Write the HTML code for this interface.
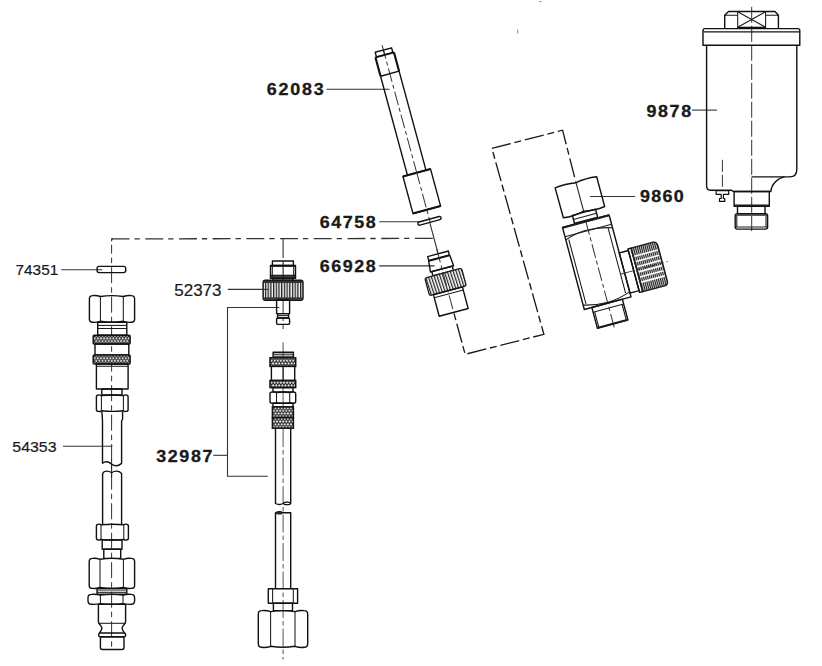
<!DOCTYPE html>
<html><head><meta charset="utf-8">
<style>
html,body{margin:0;padding:0;background:#fff;}
body{width:822px;height:666px;overflow:hidden;}
svg{display:block;}
.o{fill:#fff;stroke:#111;stroke-width:1.4;stroke-linejoin:round;}
.n{fill:none;stroke:#111;stroke-width:1.4;stroke-linejoin:round;}
.t{fill:none;stroke:#1a1a1a;stroke-width:1.05;}
.l{fill:none;stroke:#333;stroke-width:1.1;}
.c{fill:none;stroke:#333;stroke-width:1;stroke-dasharray:14 3 4 3;}
.d{fill:none;stroke:#333;stroke-width:1.3;stroke-dasharray:17 5 6 5;}
.kx{fill:url(#kx);stroke:#111;stroke-width:1.5;}
.lb{font-family:"Liberation Sans",sans-serif;font-weight:bold;font-size:16px;fill:#1a1a1a;stroke:#1a1a1a;stroke-width:0.3;}
.lr{font-family:"Liberation Sans",sans-serif;font-size:16.2px;fill:#1a1a1a;stroke:#1a1a1a;stroke-width:0.2;}
</style></head>
<body>
<svg width="822" height="666" viewBox="0 0 822 666">
<defs>
<pattern id="kx" width="2.6" height="2.6" patternUnits="userSpaceOnUse" patternTransform="rotate(45)">
<rect width="2.6" height="2.6" fill="#fff"/><rect width="2.6" height="1.0" fill="#2a2a2a"/><rect width="1.0" height="2.6" fill="#2a2a2a"/>
</pattern>
<pattern id="kv" width="2.7" height="4" patternUnits="userSpaceOnUse" x="0.3">
<rect width="2.7" height="4" fill="#f4f4f4"/><rect width="1.0" height="4" fill="#1e1e1e"/><rect x="1.0" width="0.7" height="4" fill="#8a8a8a"/>
</pattern>
<pattern id="kd" width="2.8" height="4" patternUnits="userSpaceOnUse" patternTransform="rotate(-3)">
<rect width="2.8" height="4" fill="#fff"/><rect width="1.25" height="4" fill="#262626"/>
</pattern>
<pattern id="kh" width="1.9" height="1.9" patternUnits="userSpaceOnUse" patternTransform="rotate(-60)">
<rect width="1.9" height="1.9" fill="#c4c4c4"/><rect width="1.9" height="0.95" fill="#222"/>
</pattern>
<pattern id="kx2" width="3.1" height="5.4" patternUnits="userSpaceOnUse">
<rect width="3.1" height="5.4" fill="#262626"/>
<path d="M1.55,0.05 L2.8,1.35 L1.55,2.65 L0.3,1.35 Z M0,2.75 L1.25,4.05 L0,5.35 L-1.25,4.05 Z M3.1,2.75 L4.35,4.05 L3.1,5.35 L1.85,4.05 Z" fill="#f4f4f4"/>
</pattern>
</defs>

<!-- ===== labels ===== -->
<text class="lb" style="font-size:16px" transform="translate(266.7,94.8) scale(1.12,1)" x="0" y="0" textLength="50.80" lengthAdjust="spacing">62083</text>
<text class="lb" style="font-size:16px" transform="translate(319.7,227.6) scale(1.12,1)" x="0" y="0" textLength="50.09" lengthAdjust="spacing">64758</text>
<text class="lb" style="font-size:16px" transform="translate(319.7,271.6) scale(1.12,1)" x="0" y="0" textLength="50.09" lengthAdjust="spacing">66928</text>
<text class="lb" style="font-size:16px" transform="translate(646.4,116.5) scale(1.12,1)" x="0" y="0" textLength="40.00" lengthAdjust="spacing">9878</text>
<text class="lb" style="font-size:16px" transform="translate(639.9,202.4) scale(1.12,1)" x="0" y="0" textLength="39.20" lengthAdjust="spacing">9860</text>
<text class="lb" style="font-size:16px" transform="translate(156.20000000000002,462.1) scale(1.12,1)" x="0" y="0" textLength="50.27" lengthAdjust="spacing">32987</text>
<text class="lr" style="font-size:14.8px" transform="translate(15.500000000000002,274.9) scale(1.0,1)" x="0" y="0" textLength="42.80" lengthAdjust="spacingAndGlyphs">74351</text>
<text class="lr" style="font-size:16.2px" transform="translate(174.3,295.8) scale(1.0,1)" x="0" y="0" textLength="47.20" lengthAdjust="spacingAndGlyphs">52373</text>
<text class="lr" style="font-size:14.8px" transform="translate(12.3,451.9) scale(1.0,1)" x="0" y="0" textLength="44.20" lengthAdjust="spacingAndGlyphs">54353</text>

<!-- ===== leaders ===== -->
<g class="l">
<line x1="61.3" y1="269.7" x2="102.2" y2="269.7"/>
<line x1="63" y1="446.2" x2="112.4" y2="446.2"/>
<line x1="227.8" y1="289.4" x2="268.7" y2="289.4"/>
<polyline points="279.4,307.5 227.5,307.5 227.5,476.3 267.8,476.3"/>
<line x1="213.3" y1="455.3" x2="227.5" y2="455.3"/>
<line x1="326.6" y1="89.2" x2="389.6" y2="89.2"/>
<line x1="379.2" y1="221.8" x2="419.3" y2="221.8"/>
<line x1="379.2" y1="265.9" x2="434.6" y2="265.9"/>
<line x1="590" y1="196.5" x2="635.1" y2="196.5"/>
<line x1="692" y1="110.1" x2="717" y2="110.1"/>
</g>

<!-- ===== dashed assembly line ===== -->
<line class="d" x1="111.6" y1="238.9" x2="434.2" y2="238.4" style="stroke-dasharray:17.9 5 5.3 5.5"/>
<path class="n" d="M111.6,241.2 V238.9 H113" style="stroke-width:1.2;stroke:#333"/>
<line class="l" x1="283.1" y1="238.5" x2="283.1" y2="258"/>

<!-- ===== left assembly ===== -->
<g id="left">
<line class="c" x1="111.6" y1="244.7" x2="111.6" y2="647" style="stroke-dasharray:16 4 5.5 4;stroke-dashoffset:7"/>
<rect class="n" x="97.1" y="266.4" width="28.6" height="6.2" rx="2"/>
<!-- nut 1 -->
<path class="n" d="M89.4,298.8 Q89.4,295.6 92.60000000000001,295.6 Q96.5,295.1 100.4,296.5 Q111.8,294.7 123.3,296.5 Q127.3,295.1 131.4,295.6 Q134.6,295.6 134.6,298.8 V319.0 Q134.6,322.2 131.4,322.2 Q127.3,322.7 123.3,321.3 Q111.8,323.1 100.4,321.3 Q96.5,322.7 92.60000000000001,322.2 Q89.4,322.2 89.4,319.0 Z"/><path class="t" d="M100.4,296.5 V321.3 M123.3,296.5 V321.3"/>
<!-- neck -->
<rect class="n" x="97.7" y="322.2" width="29.1" height="13.1"/>
<line class="t" x1="97.7" y1="325.4" x2="126.8" y2="325.4"/><line class="t" x1="97.7" y1="328.5" x2="126.8" y2="328.5"/>
<g transform="translate(93.2,336.95)"><rect x="0" y="-1.65" width="36.9" height="8.7" rx="1" fill="url(#kx2)" stroke="#111" stroke-width="1.5"/></g>
<rect class="n" x="95" y="344" width="33.8" height="11"/>
<g transform="translate(93.2,356.80)"><rect x="0" y="-1.80" width="36.9" height="9.0" rx="1" fill="url(#kx2)" stroke="#111" stroke-width="1.5"/></g>
<rect class="n" x="96.4" y="364" width="31.7" height="25"/>
<line class="t" x1="96.4" y1="366.2" x2="128.1" y2="366.2"/>
<rect class="n" x="101.8" y="389" width="20.2" height="6"/>
<path class="n" d="M96.4,397 Q96.4,395 98.4,395 Q99.9,394.6 101.4,395.6 Q112.4,394.4 123.4,395.6 Q124.8,394.6 126.1,395 Q128.1,395 128.1,397 V409.4 Q128.1,411.4 126.1,411.4 Q124.8,411.8 123.4,410.79999999999995 Q112.4,412.0 101.4,410.79999999999995 Q99.9,411.8 98.4,411.4 Q96.4,411.4 96.4,409.4 Z"/><path class="t" d="M101.4,395.6 V410.79999999999995 M123.4,395.6 V410.79999999999995"/>
<path class="n" d="M101.8,411.4 Q102.4,417 102.5,421 V463.2 C105,461.3 108.5,461.6 111.6,464.1 C114.5,466.3 118.5,466 121.6,463.4 V421 L122.6,419 V411.4"/>
<path class="n" d="M102.6,524 V473.6 C104,470.6 108.5,470.4 111.6,472.7 C114.7,470.4 119.5,470.6 121.6,473.6 V524"/>
<line x1="111.6" y1="459" x2="111.6" y2="477.5" stroke="#222" stroke-width="1"/>
<path class="n" d="M96.4,526.2 Q96.4,524.2 98.4,524.2 Q99.7,523.8 101,524.8000000000001 Q112.4,523.6 123.8,524.8000000000001 Q125.1,523.8 126.4,524.2 Q128.4,524.2 128.4,526.2 V538 Q128.4,540 126.4,540 Q125.1,540.4 123.8,539.4 Q112.4,540.6 101,539.4 Q99.7,540.4 98.4,540 Q96.4,540 96.4,538 Z"/><path class="t" d="M101,524.8000000000001 V539.4 M123.8,524.8000000000001 V539.4"/>
<rect class="n" x="102.2" y="540" width="19.8" height="9.2"/>
<rect class="n" x="103.8" y="549.2" width="16.9" height="9.2"/>
<path class="n" d="M89.2,561.6 Q89.2,558.4 92.4,558.4 Q96.2,557.9 100,559.3 Q111.7,557.5 123.4,559.3 Q127.4,557.9 131.4,558.4 Q134.6,558.4 134.6,561.6 V585.1999999999999 Q134.6,588.4 131.4,588.4 Q127.4,588.9 123.4,587.5 Q111.7,589.3 100,587.5 Q96.2,588.9 92.4,588.4 Q89.2,588.4 89.2,585.1999999999999 Z"/><path class="t" d="M100,559.3 V587.5 M123.4,559.3 V587.5"/>
<rect class="n" x="97" y="588.4" width="29.8" height="5.9"/>
<line class="t" x1="97" y1="590" x2="126.8" y2="590"/><line class="t" x1="97" y1="592.3" x2="126.8" y2="592.3"/>
<path class="n" d="M88,597.9 Q88,594.4 91.5,594.4 Q96.0,594.0 100.4,595.1 Q111.7,593.7 123,595.1 Q127.1,594.0 131.1,594.4 Q134.6,594.4 134.6,597.9 V600.8 Q134.6,604.3 131.1,604.3 Q127.1,604.7 123,603.5999999999999 Q111.7,605.0 100.4,603.5999999999999 Q96.0,604.7 91.5,604.3 Q88,604.3 88,600.8 Z"/><path class="t" d="M100.4,595.1 V603.5999999999999 M123,595.1 V603.5999999999999"/>
<path class="n" d="M98.4,604.3 V621.8 C98.4,624.8 101.9,625.2 101.9,628.2 C101.9,631 99.6,631.6 99.6,633.2 M125.6,604.3 V621.8 C125.6,624.8 122.1,625.2 122.1,628.2 C122.1,631 124.4,631.6 124.4,633.2"/>
<line class="t" x1="98.4" y1="623.3" x2="125.6" y2="623.3"/>
<line class="n" x1="98.4" y1="604.3" x2="125.6" y2="604.3"/>
<rect class="n" x="98.7" y="633" width="26.9" height="3.8" rx="1.5"/>
<rect class="n" x="100.4" y="636.8" width="23.6" height="12.7" rx="2"/>
</g>

<!-- ===== middle assembly ===== -->
<g id="mid">
<line class="c" x1="283.1" y1="300" x2="283.1" y2="329"/>
<rect class="n" x="272.4" y="261" width="21" height="4.5"/>
<rect class="n" x="270.5" y="265.5" width="25" height="12.8"/>
<line x1="270.5" y1="266" x2="295.5" y2="266" stroke="#111" stroke-width="1.6"/>
<rect x="270.5" y="275.3" width="25" height="3" fill="#444" stroke="#111" stroke-width="1.1"/>
<line class="t" x1="283.1" y1="261" x2="283.1" y2="280"/>
<path class="t" d="M272.3,265.5 V278.3 M293.7,265.5 V278.3"/>
<rect class="n" x="273" y="278.3" width="20" height="2"/>
<rect x="263.1" y="280.3" width="39.9" height="20" rx="2.2" fill="url(#kv)" stroke="#111" stroke-width="1.4"/>
<rect x="263.6" y="280.8" width="38.9" height="2.2" fill="#333"/>
<rect x="263.6" y="297.4" width="38.9" height="2.4" fill="#333"/>
<line class="l" x1="262" y1="289.4" x2="268.3" y2="289.4"/>
<rect class="n" x="276.6" y="300" width="13" height="13.6"/>
<rect class="n" x="277.6" y="313.6" width="11" height="4.4"/>
<line class="t" x1="277.6" y1="315.6" x2="288.6" y2="315.6"/>
<rect class="n" x="276.6" y="318" width="13" height="6.4" rx="1.5"/>

<line x1="283.1" y1="342.3" x2="283.1" y2="428" stroke="#555" stroke-width="1"/>
<line class="c" x1="283.1" y1="429" x2="283.1" y2="659.5" style="stroke-dasharray:18 3 4.5 3;stroke:#555"/>
<rect class="n" x="273.1" y="352.2" width="20.3" height="5.6"/>
<line class="t" x1="273.1" y1="354.2" x2="293.4" y2="354.2"/><line class="t" x1="273.1" y1="356.2" x2="293.4" y2="356.2"/>
<g transform="translate(270.0,359.40)"><rect x="0" y="-1.60" width="25.7" height="8.6" fill="url(#kx2)" stroke="#111" stroke-width="1.5"/></g>
<rect class="n" x="271.4" y="366.4" width="23.3" height="14.1"/>
<line class="t" x1="283.1" y1="366.4" x2="283.1" y2="380.5"/>
<g transform="translate(270.0,381.35)"><rect x="0" y="-0.85" width="25.7" height="7.1" fill="url(#kx2)" stroke="#111" stroke-width="1.5"/></g>
<rect class="n" x="273" y="387.6" width="20" height="4.4"/>
<path class="n" d="M270,394 Q270,392 272,392 Q274.2,391.6 276.5,392.6 Q283.1,391.4 289.7,392.6 Q291.7,391.6 293.7,392 Q295.7,392 295.7,394 V401.2 Q295.7,403.2 293.7,403.2 Q291.7,403.6 289.7,402.59999999999997 Q283.1,403.8 276.5,402.59999999999997 Q274.2,403.6 272,403.2 Q270,403.2 270,401.2 Z"/><path class="t" d="M276.5,392.6 V402.59999999999997 M289.7,392.6 V402.59999999999997"/>
<rect class="n" x="273" y="403.2" width="20" height="3.7"/>
<g transform="translate(272.4,409.45)"><rect x="0" y="-2.55" width="21.0" height="10.5" fill="url(#kx2)" stroke="#111" stroke-width="1.5"/></g>
<g transform="translate(272.4,420.25)"><rect x="0" y="-2.55" width="21.0" height="10.5" fill="url(#kx2)" stroke="#111" stroke-width="1.5"/></g>
<path class="n" d="M275.5,428.2 V503.5 q3.8,2 7.6,0 q3.8,-2 7.6,0 V428.2"/>
<ellipse cx="287" cy="503.4" rx="3.4" ry="1.3" fill="#fff" stroke="#111" stroke-width="1.3"/>
<path class="n" d="M275.5,588.7 V512.8 q3.8,-2 7.6,0 H290.7 V588.7"/>
<ellipse cx="279.3" cy="513.2" rx="3.3" ry="1.3" fill="#222"/>
<rect class="n" x="268.3" y="588.7" width="29.3" height="14.6"/>
<line class="t" x1="272.6" y1="588.7" x2="272.6" y2="603.3"/><line class="t" x1="293.3" y1="588.7" x2="293.3" y2="603.3"/>
<rect class="n" x="273.4" y="603.3" width="19.1" height="7.3"/>
<path class="n" d="M258.3,614.1 Q258.3,610.6 261.8,610.6 Q266.2,610.0 270.6,611.6 Q282.8,609.6 295,611.6 Q299.6,610.0 304.2,610.6 Q307.7,610.6 307.7,614.1 V643.8 Q307.7,647.3 304.2,647.3 Q299.6,647.9 295,646.3 Q282.8,648.3 270.6,646.3 Q266.2,647.9 261.8,647.3 Q258.3,647.3 258.3,643.8 Z"/><path class="t" d="M270.6,611.6 V646.3 M295,611.6 V646.3"/>
</g>

<!-- ===== tube 62083 ===== -->
<g transform="translate(383.4,50.05) rotate(-15.2)">
<line class="c" x1="0" y1="-5" x2="0" y2="125"/>
<rect class="n" x="-8.5" y="0" width="17" height="5"/>
<line class="t" x1="0" y1="0" x2="0" y2="5"/>
<path class="n" d="M-9.6,5 V24.5 M9.6,5 V24.5" style="stroke-width:2.1"/>
<line class="n" x1="-9.6" y1="5" x2="9.6" y2="5" style="stroke-width:1.8"/>
<line class="n" x1="-9.6" y1="24.5" x2="9.6" y2="24.5"/>
<path class="n" d="M-9.6,24.5 V127 M9.6,24.5 V127"/>
<rect class="n" x="-14.3" y="127" width="28.6" height="38.6"/>
<line class="n" x1="-14.3" y1="127.2" x2="14.3" y2="127.2" style="stroke-width:2"/>
<line class="n" x1="-14.3" y1="165.4" x2="14.3" y2="165.4" style="stroke-width:2"/>
<line class="c" x1="0" y1="125" x2="0" y2="178"/>
</g>
<!-- washer 64758 -->
<g transform="translate(429.5,220.8) rotate(-15.2)">
<rect class="n" x="-12" y="-1.6" width="24" height="3.2" rx="1.6"/>
</g>

<!-- ===== 66928 ===== -->
<line class="l" x1="429.6" y1="221.9" x2="437.9" y2="253"/>
<g transform="translate(438,253.8) rotate(-15)">
<rect class="n" x="-10.7" y="0" width="21.4" height="4.2"/>
<line x1="-10.7" y1="4.4" x2="10.7" y2="4.4" stroke="#111" stroke-width="1.8"/>
<path class="n" d="M-10.9,4.4 L-12,15.6 H12 L11,4.4"/>
<rect class="n" x="-10.6" y="15.6" width="21.2" height="4.4"/>
<rect x="-19" y="20" width="38" height="18.3" rx="2" fill="url(#kd)" stroke="#1c1c1c" stroke-width="1.3"/>
<rect class="n" x="-15" y="38.3" width="30" height="22.3"/>
<line class="t" x1="-15" y1="41.5" x2="15" y2="41.5"/>
<line class="c" x1="0" y1="-5" x2="0" y2="60"/>
</g>

<!-- dashed bracket -->
<polyline class="d" points="453.7,312.3 465.1,354.3 543.9,334.3 491.9,148.4 562.6,130.2 575.7,181.5" style="stroke-dasharray:19.5 3.75 7 3.75;stroke-dashoffset:22.14;stroke:#1a1a1a;stroke-width:1.35"/>

<!-- ===== valve 9860 ===== -->
<g transform="translate(575.9,182.3) rotate(-15)">
<path class="n" d="M-21.5,0 Q-10.7,-1.6 0,0.4 Q10.7,-1.6 21.5,0 V30.8 Q10.7,32.4 0,29.8 Q-10.7,32.6 -21.3,31 Z"/>
<line class="t" x1="0" y1="0.4" x2="0" y2="29.8"/>
<rect class="n" x="-12" y="31" width="24" height="8.4"/>
<line class="t" x1="-12" y1="35.2" x2="12" y2="35.2"/>
<path class="n" d="M-24.6,40.2 L23.6,40.2 L23.6,125 L-24.8,125 Z"/>
<line x1="-24.6" y1="40.4" x2="23.6" y2="40.4" stroke="#1c1c1c" stroke-width="2"/>
<line class="t" x1="-24.6" y1="49.8" x2="23.6" y2="49.8"/>
<path class="t" d="M-24.6,53 Q-12,48.5 0,49.2 Q12,49.6 23.6,53.4"/>
<path class="t" d="M-21.7,53.4 V120.2 M19.3,52.5 V120"/>
<path class="t" d="M-24.8,120.5 Q-12,124.3 0,124.2 Q10,124.2 23.6,119.8"/>
<line class="c" x1="-0.5" y1="40" x2="-0.5" y2="150"/>
<rect class="n" x="-17" y="125" width="31.6" height="21.5"/>
<line class="t" x1="-17" y1="130" x2="14.6" y2="130"/>
<path class="t" d="M-15.4,130 V146 M13,130 V146"/>
<line x1="-17" y1="146.2" x2="14.6" y2="146.2" stroke="#1c1c1c" stroke-width="1.8"/>
<rect class="n" x="23.6" y="79.5" width="9.4" height="41.5"/>
<rect class="n" x="33" y="77.8" width="3.2" height="45"/>
<path fill="url(#kh)" stroke="#1c1c1c" stroke-width="1.3" d="M36.2,77.8 H59 Q62.5,78 62.8,82 V119 Q62.6,123 59,123 H36.2 Z"/>
<g stroke="#fff" stroke-width="1.7">
<line x1="37.4" y1="86.6" x2="61.6" y2="86.6"/><line x1="37.4" y1="92" x2="61.6" y2="92"/>
<line x1="37.4" y1="97.4" x2="61.6" y2="97.4"/><line x1="37.4" y1="102.8" x2="61.6" y2="102.8"/>
<line x1="37.4" y1="108.1" x2="61.6" y2="108.1"/><line x1="37.4" y1="113.4" x2="61.6" y2="113.4"/>
</g>
<line class="c" x1="19" y1="100.3" x2="68" y2="100.3"/>
</g>

<!-- ===== cup 9878 ===== -->
<g id="cup">
<line class="c" x1="751.7" y1="6.8" x2="751.7" y2="231" style="stroke-dasharray:16 3"/>
<path class="n" d="M724.7,28.5 V15.2 L728.5,11.5 H775 L778.4,15.2 V28.5"/>
<line class="t" x1="737.7" y1="11.5" x2="737.7" y2="28.5"/><line class="t" x1="765.6" y1="11.5" x2="765.6" y2="28.5"/>
<path class="t" d="M724.7,15.2 H737.7 M765.6,15.2 H778.4"/>
<path class="t" d="M737.7,11.7 L765.6,27.2 M765.6,11.7 L737.7,27.2"/>
<line x1="737.7" y1="27.5" x2="765.6" y2="27.5" stroke="#111" stroke-width="1.6"/>
<path class="n" d="M703,45.2 V30.6 Q703,28.6 705,28.6 H797.8 Q799.8,28.6 799.8,30.6 V45.2 Z"/>
<line x1="703.4" y1="31.8" x2="799.4" y2="31.8" stroke="#111" stroke-width="1.2"/>
<path class="n" d="M706.6,45.2 V186 Q706.6,190.2 710.6,190.2 H731.6 L733.2,191.5 H770.9 C771.5,184 778,178 784.4,176.9 H789.5 Q796.8,176.9 796.8,169.5 V45.2"/>
<line class="n" x1="751.6" y1="176.9" x2="784.4" y2="176.9" style="stroke-width:1.3"/>
<line x1="722.4" y1="159.8" x2="722.4" y2="190" stroke="#333" stroke-width="1" style="stroke-dasharray:12 3"/>
<path class="n" d="M716.1,190.7 H728.7 V194.4 H723.4 V198.5 H724.8 V201.4 H719.5 V198.5 H721.2 V194.4 H716.1 Z" style="stroke-width:1.2"/>
<rect class="n" x="734.1" y="191.5" width="35.2" height="14.8"/>
<line x1="734.1" y1="205.2" x2="769.3" y2="205.2" stroke="#111" stroke-width="1.3"/>
<rect class="n" x="737.5" y="206.3" width="27.5" height="7.3"/>
<rect class="n" x="735.2" y="213.6" width="32.4" height="15.5" rx="2"/>
<rect x="735.8" y="214.2" width="31.2" height="1.6" fill="#333"/>
<line class="t" x1="735.2" y1="227" x2="767.6" y2="227"/>
<path class="t" d="M736.8,215.8 V227 M766,215.8 V227"/>
</g>

<!-- specks -->
<line x1="517.7" y1="29.5" x2="517.7" y2="33.5" stroke="#666" stroke-width="0.7"/>
<line x1="539" y1="1.5" x2="541.5" y2="1.5" stroke="#666" stroke-width="0.7"/>
</svg>
</body></html>
